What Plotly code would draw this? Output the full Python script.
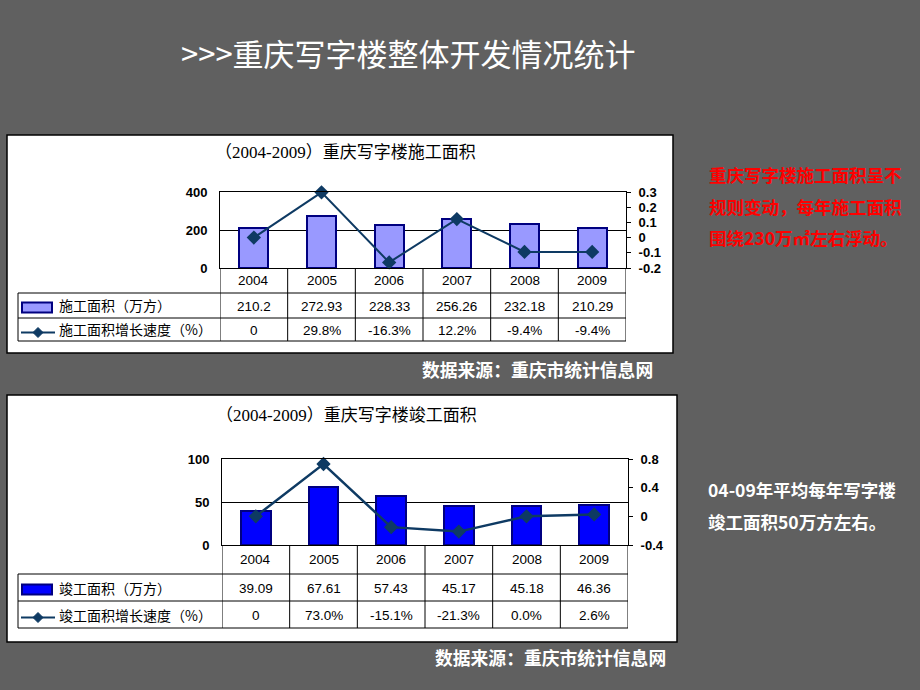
import plotly.graph_objects as go

W, H = 920, 690

# ---------------- data ----------------
years = ["2004", "2005", "2006", "2007", "2008", "2009"]

area1 = [210.2, 272.93, 228.33, 256.26, 232.18, 210.29]
area1_labels = ["210.2", "272.93", "228.33", "256.26", "232.18", "210.29"]
growth1 = [0.0, 0.298, -0.163, 0.122, -0.094, -0.094]
growth1_labels = ["0", "29.8%", "-16.3%", "12.2%", "-9.4%", "-9.4%"]

area2 = [39.09, 67.61, 57.43, 45.17, 45.18, 46.36]
area2_labels = ["39.09", "67.61", "57.43", "45.17", "45.18", "46.36"]
growth2 = [0.0, 0.730, -0.151, -0.213, 0.0, 0.026]
growth2_labels = ["0", "73.0%", "-15.1%", "-21.3%", "0.0%", "2.6%"]

left1_ticks = [0, 200, 400]
right1_ticks = [-0.2, -0.1, 0, 0.1, 0.2, 0.3]
right1_text = ["-0.2", "-0.1", "0", "0.1", "0.2", "0.3"]
left2_ticks = [0, 50, 100]
right2_ticks = [-0.4, 0, 0.4, 0.8]
right2_text = ["-0.4", "0", "0.4", "0.8"]

title_main = ">>>重庆写字楼整体开发情况统计"
title1 = "（2004-2009）重庆写字楼施工面积"
title2 = "（2004-2009）重庆写字楼竣工面积"
legend1 = ["施工面积（万方）", "施工面积增长速度（%）"]
legend2 = ["竣工面积（万方）", "竣工面积增长速度（%）"]
note1 = ["重庆写字楼施工面积呈不", "规则变动，每年施工面积", "围绕230万㎡左右浮动。"]
note2 = ["04-09年平均每年写字楼", "竣工面积50万方左右。"]
source = "数据来源：重庆市统计信息网"

# ---------------- styling ----------------
BG = "#606060"
NAVY = "#0E3A63"
SANS = "Liberation Sans, Arial, Noto Sans CJK SC"
CJK = "Noto Sans CJK SC, Liberation Sans"
TITLEF = "Liberation Serif, Noto Sans CJK SC"


def px(x):
    return x / W


def py(y):
    return 1 - y / H


xs = list(range(len(years)))

fig = go.Figure()

# chart 1
fig.add_trace(go.Bar(x=xs, y=area1, width=0.43, xaxis="x", yaxis="y",
                     marker=dict(color="#9999FF", line=dict(color="#000080", width=2)),
                     showlegend=False, hoverinfo="skip"))
fig.add_trace(go.Scatter(x=xs, y=growth1, xaxis="x", yaxis="y2", mode="lines+markers",
                         line=dict(color=NAVY, width=2),
                         marker=dict(symbol="diamond", size=11, color=NAVY),
                         cliponaxis=False, showlegend=False, hoverinfo="skip"))
# chart 2
fig.add_trace(go.Bar(x=xs, y=area2, width=0.44, xaxis="x3", yaxis="y3",
                     marker=dict(color="#0000FF", line=dict(color="#000080", width=2)),
                     showlegend=False, hoverinfo="skip"))
fig.add_trace(go.Scatter(x=xs, y=growth2, xaxis="x3", yaxis="y4", mode="lines+markers",
                         line=dict(color=NAVY, width=2.5),
                         marker=dict(symbol="diamond", size=11, color=NAVY),
                         cliponaxis=False, showlegend=False, hoverinfo="skip"))

tickfont = dict(family=SANS, size=13, color="black", weight="bold")


def xaxis_cfg(x0, x1, anchor):
    return dict(domain=[px(x0), px(x1)], range=[-0.5, 5.5], showticklabels=False,
                showline=True, mirror=True, linecolor="black", linewidth=1,
                showgrid=False, zeroline=False, anchor=anchor, fixedrange=True, ticks="",
                automargin=False)


def yleft_cfg(y0, y1, rng, tv, anchor):
    return dict(domain=[py(y1), py(y0)], range=rng, tickvals=tv, showgrid=True,
                gridcolor="black", gridwidth=1, showline=True, mirror=True,
                linecolor="black", linewidth=1, zeroline=False, ticks="",
                tickfont=tickfont, anchor=anchor, ticklabelstandoff=9, fixedrange=True,
                automargin=False)


def yright_cfg(rng, tv, tt, anchor, over):
    return dict(range=rng, tickvals=tv, ticktext=tt, side="right", overlaying=over,
                anchor=anchor, showgrid=False, zeroline=False, showline=False,
                ticks="outside", ticklen=4, tickcolor="black", tickwidth=1,
                tickfont=tickfont, ticklabelstandoff=5, fixedrange=True, automargin=False)


# pixel geometry
P1 = dict(l=220, r=626, t=192, b=268)
P2 = dict(l=222, r=628, t=459, b=545)

fig.update_layout(
    template="none",
    width=W, height=H, margin=dict(l=0, r=0, t=0, b=0, pad=0, autoexpand=False),
    paper_bgcolor=BG, plot_bgcolor="rgba(0,0,0,0)",
    bargap=0, showlegend=False,
    xaxis=xaxis_cfg(P1["l"], P1["r"], "y"),
    yaxis=yleft_cfg(P1["t"], P1["b"], [0, 400], left1_ticks, "x"),
    yaxis2=yright_cfg([-0.2, 0.3], right1_ticks, right1_text, "x", "y"),
    xaxis3=xaxis_cfg(P2["l"], P2["r"], "y3"),
    yaxis3=yleft_cfg(P2["t"], P2["b"], [0, 100], left2_ticks, "x3"),
    yaxis4=yright_cfg([-0.4, 0.8], right2_ticks, right2_text, "x3", "y3"),
)

shapes = []
annotations = []

# white panels
for (x0, y0, x1, y1) in [(7, 135, 673, 353), (7, 395, 677, 642)]:
    shapes.append(dict(type="rect", xref="paper", yref="paper", x0=px(x0), x1=px(x1),
                       y0=py(y1), y1=py(y0), fillcolor="white",
                       line=dict(color="black", width=1.5), layer="below"))


def line(x0, y0, x1, y1, xref="paper", color="black", width=1):
    shapes.append(dict(type="line", xref=xref, yref="paper", x0=x0, x1=x1,
                       y0=py(y0), y1=py(y1), line=dict(color=color, width=width)))


def text(x, y, s, size=13, family=SANS, color="black", xanchor="center", xref="paper", weight="normal"):
    annotations.append(dict(x=x, y=py(y), xref=xref, yref="paper", text=s, showarrow=False,
                            xanchor=xanchor, yanchor="middle",
                            font=dict(family=family, size=size, color=color, weight=weight)))


def table(xaxis, P, rows, labels, row2, row3, swatch_color):
    top, r1, r2, bot = rows
    left = 18
    for yy in (r1, r2, bot):
        line(px(left), yy, px(P["r"]), yy)
    for k in range(len(years) + 1):
        line(k - 0.5, top, k - 0.5, bot, xref=xaxis)
    line(px(left), r1, px(left), bot)
    for i, yr in enumerate(years):
        text(i, (top + r1) / 2, yr, size=13.5, xref=xaxis)
        text(i, (r1 + r2) / 2 + 1, row2[i], size=13.5, xref=xaxis)
        text(i, (r2 + bot) / 2 + 1, row3[i], size=13.5, xref=xaxis)
    cy1 = (r1 + r2) / 2 + 2
    shapes.append(dict(type="rect", xref="paper", yref="paper", x0=px(22), x1=px(52),
                       y0=py(cy1 + 5), y1=py(cy1 - 5), fillcolor=swatch_color,
                       line=dict(color="#000080", width=2)))
    cy2 = (r2 + bot) / 2 + 3
    line(px(21), cy2, px(55), cy2, color=NAVY, width=2)
    cx = 38
    d = 5
    shapes.append(dict(type="path", xref="paper", yref="paper",
                       path=f"M {px(cx-d)},{py(cy2)} L {px(cx)},{py(cy2-d)} L {px(cx+d)},{py(cy2)} L {px(cx)},{py(cy2+d)} Z",
                       fillcolor=NAVY, line=dict(color=NAVY, width=1)))
    text(px(57), (r1 + r2) / 2, labels[0], size=14, family=CJK, xanchor="left")
    text(px(57), (r2 + bot) / 2, labels[1], size=14, family=CJK, xanchor="left")


table("x", P1, (268, 293, 318, 341), legend1, area1_labels, growth1_labels, "#9999FF")
table("x3", P2, (545, 574, 601, 628), legend2, area2_labels, growth2_labels, "#0000FF")

# titles
text(px(408), 52, title_main, size=31, family=CJK, color="white")
text(px(345), 152, title1, size=17, family=TITLEF)
text(px(346), 415, title2, size=17, family=TITLEF)

# notes
for i, s in enumerate(note1):
    text(px(707), 174 + i * 32, s, size=17.5, family=CJK, color="#FF0000", xanchor="left", weight="bold")
for i, s in enumerate(note2):
    text(px(706), 489 + i * 32, s, size=17.5, family=CJK, color="white", xanchor="left", weight="bold")

# sources
for (xr, yc) in [(655, 369), (668, 657)]:
    annotations.append(dict(x=px(xr), y=py(yc), xref="paper", yref="paper", text=source,
                            showarrow=False, xanchor="right", yanchor="middle",
                            font=dict(family=CJK, size=17.8, color="white", weight="bold")))

fig.update_layout(shapes=shapes, annotations=annotations)

fig.write_html("out.html", config={"displayModeBar": False},
               post_script="document.body.style.margin='0';document.body.style.overflow='hidden';")
